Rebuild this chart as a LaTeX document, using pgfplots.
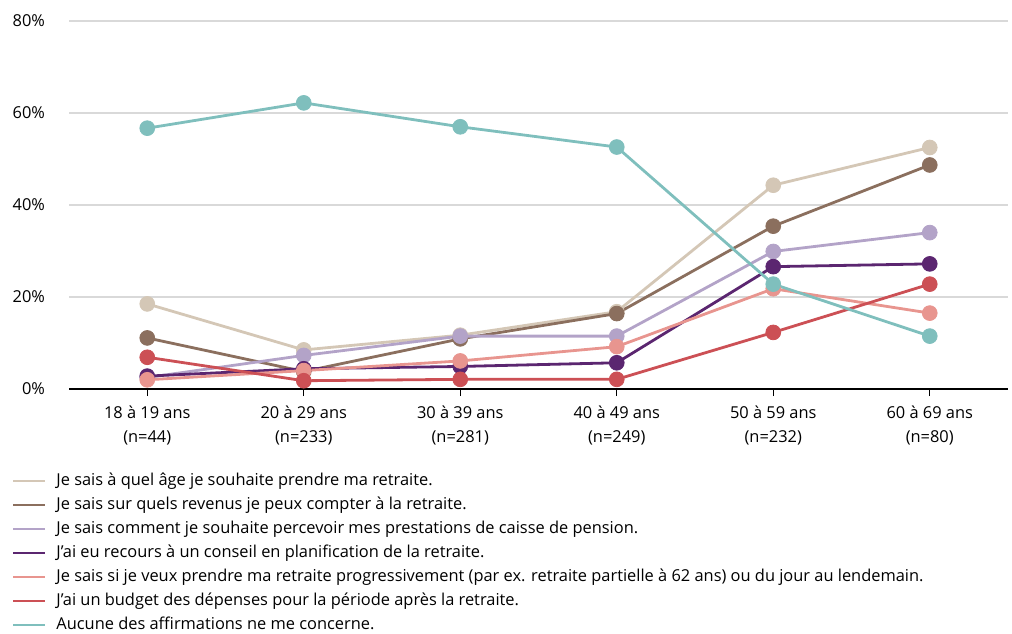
\documentclass[border=0pt]{standalone}
\usepackage{fontspec}
\setmainfont{Open Sans}
\usepackage{pgfplots}
\pgfplotsset{compat=1.18}

\definecolor{cBeige}{RGB}{212,199,182}
\definecolor{cBrown}{RGB}{139,111,94}
\definecolor{cLav}{RGB}{179,163,200}
\definecolor{cPurple}{RGB}{91,38,112}
\definecolor{cPink}{RGB}{232,149,143}
\definecolor{cRed}{RGB}{204,80,85}
\definecolor{cTeal}{RGB}{127,191,189}

\begin{document}
\begin{tikzpicture}
\begin{axis}[
    scale only axis,
    width=469.5pt, height=184pt,
    xmin=-0.5, xmax=5.5,
    ymin=0, ymax=80,
    axis x line*=bottom,
    axis y line*=left,
    y axis line style={draw=none},
    x axis line style={black, line width=0.75pt},
    xtick={0,...,5},
    xticklabels={{18 à 19 ans\\(n=44)},{20 à 29 ans\\(n=233)},{30 à 39 ans\\(n=281)},{40 à 49 ans\\(n=249)},{50 à 59 ans\\(n=232)},{60 à 69 ans\\(n=80)}},
    xticklabel style={align=center, font=\fontsize{8.2}{12}\selectfont, yshift=-1.3pt},
    x tick style={black, line width=0.6pt},
    tick align=outside,
    major tick length=3.5pt,
    ytick={0,20,...,80},
    y tick style={draw=none},
    yticklabel={\pgfmathprintnumber{\tick}\%},
    yticklabel style={font=\fontsize{8.2}{10}\selectfont, xshift=-5pt},
    /pgf/number format/assume math mode=true,
    ymajorgrids,
    grid style={draw=black!15, line width=0.75pt},
    every axis plot/.append style={line width=1.4pt, mark=*, mark size=3.7pt},
    legend cell align=left,
    legend style={draw=none, fill=none, at={(-0.0611,-0.2283)}, anchor=north west,
        font=\fontsize{8.2}{10}\selectfont, row sep=4pt, column sep=5pt,
        inner sep=0pt, outer sep=0pt,
        nodes={inner sep=0pt, text height=6pt, text depth=2pt}},
    legend image code/.code={\draw[#1] (0pt,0pt) -- (16pt,0pt);},
    clip=false,
]
\addplot[color=cBeige, mark options={fill=cBeige, draw=cBeige, line width=0.4pt}] coordinates {(0,18.5) (1,8.5) (2,11.7) (3,16.8) (4,44.3) (5,52.5)};
\addlegendentry{Je sais à quel âge je souhaite prendre ma retraite.}
\addplot[color=cBrown, mark options={fill=cBrown, draw=cBrown, line width=0.4pt}] coordinates {(0,11.1) (1,3.8) (2,10.9) (3,16.4) (4,35.4) (5,48.7)};
\addlegendentry{Je sais sur quels revenus je peux compter à la retraite.}
\addplot[color=cLav, mark options={fill=cLav, draw=cLav, line width=0.4pt}] coordinates {(0,2.5) (1,7.3) (2,11.5) (3,11.5) (4,29.9) (5,34.0)};
\addlegendentry{Je sais comment je souhaite percevoir mes prestations de caisse de pension.}
\addplot[color=cPurple, mark options={fill=cPurple, draw=cPurple, line width=0.4pt}] coordinates {(0,2.8) (1,4.4) (2,4.9) (3,5.7) (4,26.6) (5,27.2)};
\addlegendentry{J’ai eu recours à un conseil en planification de la retraite.}
\addplot[color=cPink, mark options={fill=cPink, draw=cPink, line width=0.4pt}] coordinates {(0,2.0) (1,4.0) (2,6.1) (3,9.2) (4,21.8) (5,16.5)};
\addlegendentry{Je sais si je veux prendre ma retraite progressivement (par ex. retraite partielle à 62 ans) ou du jour au lendemain.}
\addplot[color=cRed, mark options={fill=cRed, draw=cRed, line width=0.4pt}] coordinates {(0,6.9) (1,1.8) (2,2.1) (3,2.1) (4,12.3) (5,22.8)};
\addlegendentry{J’ai un budget des dépenses pour la période après la retraite.}
\addplot[color=cTeal, mark options={fill=cTeal, draw=cTeal, line width=0.4pt}] coordinates {(0,56.7) (1,62.2) (2,57.0) (3,52.6) (4,22.8) (5,11.5)};
\addlegendentry{Aucune des affirmations ne me concerne.}
\end{axis}
\path ([xshift=-34.5pt, yshift=-119.5pt]current axis.south west) rectangle ([xshift=2pt, yshift=10.5pt]current axis.north east);
\end{tikzpicture}
\end{document}
